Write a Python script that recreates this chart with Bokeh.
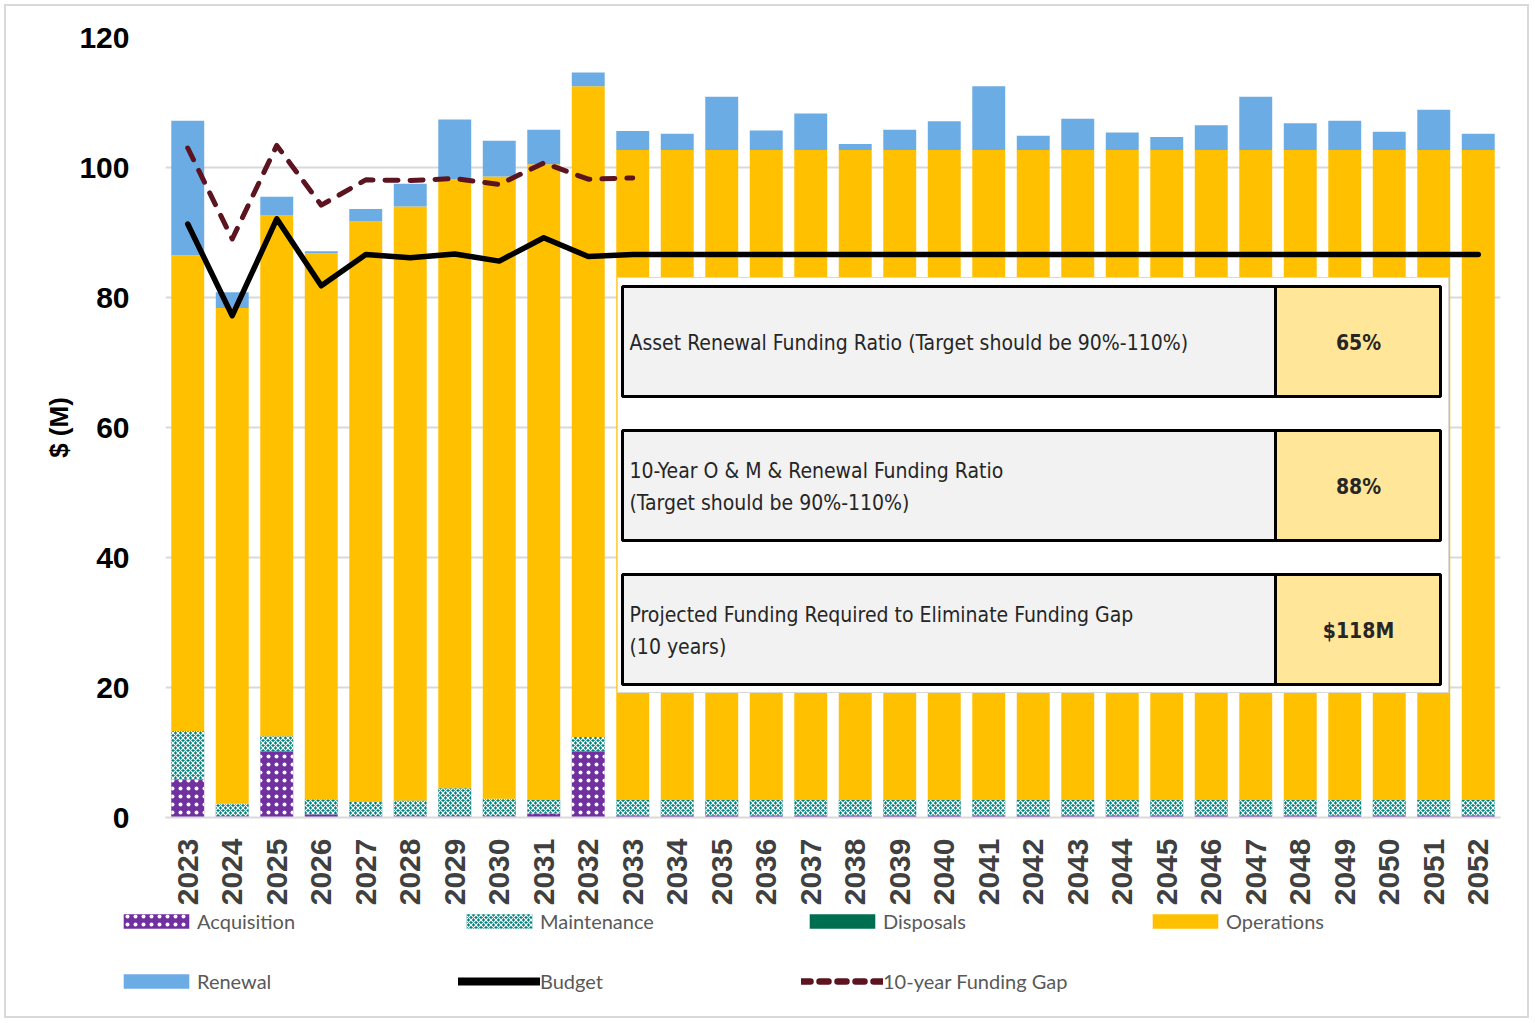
import math
import numpy as np
from bokeh.plotting import figure
from bokeh.models import (ColumnDataSource, Range1d, FixedTicker, Legend, LegendItem,
                          BoxAnnotation, Label)
from bokeh.embed import file_html
from bokeh.resources import INLINE

# ---------------- data ----------------
years = [2023, 2024, 2025, 2026, 2027, 2028, 2029, 2030, 2031, 2032,
         2033, 2034, 2035, 2036, 2037, 2038, 2039, 2040, 2041, 2042,
         2043, 2044, 2045, 2046, 2047, 2048, 2049, 2050, 2051, 2052]
acquisition = [5.9, 0.2, 10.2, 0.5, 0.2, 0.2, 0.2, 0.2, 0.6, 10.2,
               0.3, 0.3, 0.3, 0.3, 0.3, 0.3, 0.3, 0.3, 0.3, 0.3,
               0.3, 0.3, 0.3, 0.3, 0.3, 0.3, 0.3, 0.3, 0.3, 0.3]
maintenance = [7.4, 1.9, 2.3, 2.3, 2.2, 2.4, 4.3, 2.7, 2.1, 2.2,
               2.4, 2.4, 2.4, 2.4, 2.4, 2.4, 2.4, 2.4, 2.4, 2.4,
               2.4, 2.4, 2.4, 2.4, 2.4, 2.4, 2.4, 2.4, 2.4, 2.4]
disposals = [0, 0, 0, 0, 0, 0, 0, 0, 0, 0,
             0, 0, 0, 0, 0, 0, 0, 0, 0, 0,
             0, 0, 0, 0, 0, 0, 0, 0, 0, 0]
operations = [73.2, 76.3, 80.1, 84.0, 89.3, 91.4, 93.7, 95.7, 97.8, 100.1,
              100.0, 100.0, 100.0, 100.0, 100.0, 100.0, 100.0, 100.0, 100.0, 100.0,
              100.0, 100.0, 100.0, 100.0, 100.0, 100.0, 100.0, 100.0, 100.0, 100.0]
renewal = [20.7, 2.4, 2.9, 0.3, 1.9, 3.5, 9.2, 5.5, 5.3, 2.1,
           2.9, 2.5, 8.2, 3.0, 5.6, 0.9, 3.1, 4.4, 9.8, 2.2,
           4.8, 2.7, 2.0, 3.8, 8.2, 4.1, 4.5, 2.8, 6.2, 2.5]
budget = [91.3, 77.2, 92.1, 81.8, 86.6, 86.1, 86.7, 85.6, 89.2, 86.3,
          86.6, 86.6, 86.6, 86.6, 86.6, 86.6, 86.6, 86.6, 86.6, 86.6,
          86.6, 86.6, 86.6, 86.6, 86.6, 86.6, 86.6, 86.6, 86.6, 86.6]
gap_years = [2023, 2024, 2025, 2026, 2027, 2028, 2029, 2030, 2031, 2032, 2033]
funding_gap = [103.0, 89.0, 103.4, 94.2, 98.1, 98.0, 98.3, 97.4, 100.7, 98.2, 98.4]
y_ticks = [0, 20, 40, 60, 80, 100, 120]

series_names = ["Acquisition", "Maintenance", "Disposals", "Operations", "Renewal"]
table_rows = [
    ["Asset Renewal Funding Ratio  (Target should be 90%-110%)"],
    ["10-Year O & M & Renewal Funding Ratio", "(Target should be 90%-110%)"],
    ["Projected Funding Required to Eliminate Funding Gap", "(10 years)"],
]
table_values = ["65%", "88%", "$118M"]

# ---------------- layout constants ----------------
TOTAL_W = 1533
MAIN_H = 908
LEG_H = 114
FL, FR, FT, FB = 165, 1500, 37, 817   # frame edges in page pixels
G = "linear-gradient(#D9D9D9,#D9D9D9)"

p = figure(width=TOTAL_W, height=MAIN_H, x_range=Range1d(2022.5, 2052.5),
           y_range=Range1d(0, 120), output_backend="svg", toolbar_location=None,
           min_border_left=FL, min_border_right=TOTAL_W - FR, min_border_top=FT,
           min_border_bottom=MAIN_H - FB)
p.outline_line_color = None
p.background_fill_color = "white"
p.border_fill_color = None
p.styles = {"background": (f"{G} left 4px top 4px / 2px calc(100% - 4px) no-repeat, "
                           f"{G} right 4px top 4px / 2px calc(100% - 4px) no-repeat, "
                           f"{G} left 4px top 4px / calc(100% - 8px) 2px no-repeat, white")}

series = [acquisition, maintenance, disposals, operations, renewal]
bottoms = np.zeros(len(years))
data = {"x": years}
for name, vals in zip(series_names, series):
    v = np.array(vals, dtype=float)
    data[name + "_b"] = bottoms.copy()
    data[name + "_t"] = bottoms + v
    bottoms = bottoms + v
src = ColumnDataSource(data)

W = 0.74
styles = {
    "Acquisition": dict(fill_color="#7030A0", hatch_pattern="dot", hatch_color="white",
                        hatch_scale=8, hatch_weight=2.5),
    "Maintenance": dict(fill_color="#00827F", hatch_pattern="diagonal_cross", hatch_color="white",
                        hatch_scale=5, hatch_weight=1.2),
    "Disposals": dict(fill_color="#006F51"),
    "Operations": dict(fill_color="#FFC000"),
    "Renewal": dict(fill_color="#6CACE4"),
}
for name in series_names:
    p.vbar(x="x", width=W, bottom=name + "_b", top=name + "_t",
           source=src, line_color=None, **styles[name])

budget_style = dict(line_color="black", line_join="round", line_cap="round")
gap_style = dict(line_color="#5C1421", line_cap="round", line_join="round")
p.line(years, budget, line_width=5.5, **budget_style)
p.line(gap_years, funding_gap, line_width=5, line_dash="13 12", **gap_style)

# ---------------- axes ----------------
p.xgrid.grid_line_color = None
p.ygrid.grid_line_color = "#D9D9D9"
p.ygrid.grid_line_width = 2
p.yaxis.ticker = FixedTicker(ticks=y_ticks)
p.xaxis.ticker = FixedTicker(ticks=years)
p.xaxis.major_label_orientation = math.pi / 2

for ax in (p.xaxis, p.yaxis):
    ax.major_tick_line_color = None
    ax.minor_tick_line_color = None
    ax.major_label_text_font = "Liberation Sans"
    ax.major_label_text_font_style = "bold"
    ax.major_label_text_font_size = "30px"

p.yaxis.axis_line_color = None
p.yaxis.major_label_text_color = "black"
p.yaxis.major_label_standoff = 30
p.yaxis.axis_label = "$ (M)"
p.yaxis.axis_label_text_font = "Liberation Sans"
p.yaxis.axis_label_text_font_style = "bold"
p.yaxis.axis_label_text_font_size = "26px"
p.yaxis.axis_label_text_color = "black"
p.yaxis.axis_label_standoff = 2

p.xaxis.axis_line_color = "#D9D9D9"
p.xaxis.axis_line_width = 2
p.xaxis.major_label_text_color = "#404040"
p.xaxis.major_label_standoff = 15

# ---------------- inset table ----------------
def xd(px):
    return 2022.5 + (px - FL) / ((FR - FL) / 30.0)

def yd(py):
    return (FB - py) / ((FB - FT) / 120.0)

p.add_layout(BoxAnnotation(left=xd(617), right=xd(1448), top=yd(277), bottom=yd(692),
                           fill_color="white", fill_alpha=1, line_color="#D9D9D9",
                           line_alpha=1, line_width=1, level="annotation"))
TABLE_FONT = "'Liberation Sans Narrow', 'DejaVu Sans Condensed', sans-serif"
row_tops = [286, 430, 574]
row_h = 110
for i, rt in enumerate(row_tops):
    top, bot = yd(rt), yd(rt + row_h)
    p.add_layout(BoxAnnotation(left=xd(622), right=xd(1275), top=top, bottom=bot,
                               fill_color="#F2F2F2", fill_alpha=1, line_color="black",
                               line_alpha=1, line_width=3, level="annotation"))
    p.add_layout(BoxAnnotation(left=xd(1275), right=xd(1440), top=top, bottom=bot,
                               fill_color="#FFE699", fill_alpha=1, line_color="black",
                               line_alpha=1, line_width=3, level="annotation"))
    lines = table_rows[i]
    mid = rt + row_h / 2
    ys = [mid + 1] if len(lines) == 1 else [mid - 15, mid + 17]
    for txt, ty in zip(lines, ys):
        p.add_layout(Label(x=xd(629), y=yd(ty), text=txt, text_baseline="middle",
                           text_align="left", text_font_size="21px", text_font=TABLE_FONT,
                           text_color="#262626"))
    p.add_layout(Label(x=xd(1358), y=yd(mid + 1), text=table_values[i],
                       text_baseline="middle", text_align="center",
                       text_font_size="21px", text_font_style="bold",
                       text_font=TABLE_FONT, text_color="#262626"))

# ---------------- legend (separate strip under the chart) ----------------
# The strip re-uses the chart's own data, but its ranges keep that data out of view,
# so only the legend glyphs are visible.
lf = figure(width=TOTAL_W, height=LEG_H, x_range=Range1d(0, 1), y_range=Range1d(0, 1),
            output_backend="svg", toolbar_location=None,
            min_border_left=0, min_border_right=0, min_border_top=0, min_border_bottom=0)
lf.axis.visible = False
lf.grid.grid_line_color = None
lf.outline_line_color = None
lf.background_fill_color = None
lf.border_fill_color = None
lf.styles = {"background": (f"{G} left 4px top 0 / 2px calc(100% - 4px) no-repeat, "
                            f"{G} right 4px top 0 / 2px calc(100% - 4px) no-repeat, "
                            f"{G} left 4px bottom 4px / calc(100% - 8px) 2px no-repeat, white")}

leg_r = {}
for name in series_names:
    leg_r[name] = lf.vbar(x="x", width=W, bottom=name + "_b", top=name + "_t",
                          source=src, line_color=None, **styles[name])
leg_budget = lf.line(years, budget, line_width=8, **budget_style)
leg_gap = lf.line(gap_years, funding_gap, line_width=6.5, line_dash="9 9", **gap_style)

def make_legend(items, loc):
    return Legend(items=items, orientation="horizontal", location=loc,
                  glyph_width=82, glyph_height=18, label_standoff=0, label_width=250,
                  spacing=11, padding=0, margin=0, border_line_color=None,
                  background_fill_alpha=0, label_text_font="Lato",
                  label_text_font_size="20px", label_text_color="#595959",
                  label_height=18)

items1 = [LegendItem(label=n, renderers=[leg_r[n]]) for n in series_names[:4]]
items2 = [LegendItem(label="Renewal", renderers=[leg_r["Renewal"]]),
          LegendItem(label="Budget", renderers=[leg_budget]),
          LegendItem(label="10-year Funding Gap", renderers=[leg_gap])]
lf.add_layout(make_legend(items1, (115, LEG_H - 25)), "center")
lf.add_layout(make_legend(items2, (115, LEG_H - 85)), "center")

open("out.html", "w").write(file_html([p, lf], INLINE))
